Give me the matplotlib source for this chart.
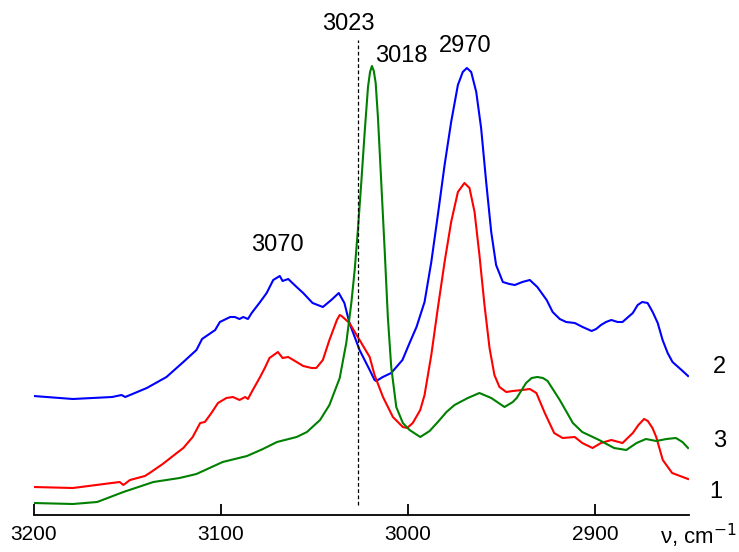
import matplotlib
matplotlib.use("Agg")
import matplotlib.pyplot as plt

plt.rcParams['font.family'] = ['Liberation Sans', 'DejaVu Sans']

# Spectrum 2 (blue)
wn_blue = [3200, 3179, 3158, 3153, 3151, 3139.5, 3129, 3120, 3113, 3110, 3103, 3100.5,
           3095, 3092.5, 3090, 3088, 3085.5, 3083.5, 3079, 3075.5, 3072, 3068.5, 3067,
           3064, 3059.5, 3056, 3051, 3045.5, 3041, 3037, 3034, 3031.3, 3025.9, 3020.5,
           3017.9, 3017, 3013.5, 3009, 3003, 2999.2, 2995.5, 2991.2, 2987.6, 2984.1,
           2980.5, 2977, 2973.4, 2970.8, 2968.6, 2966.3, 2963.6, 2961, 2958.3, 2955.6,
           2953, 2949.4, 2945.9, 2943, 2939, 2935, 2931, 2926, 2922.8, 2919, 2915.6,
           2911, 2906.8, 2902, 2899.6, 2897, 2894.3, 2891.5, 2888.1, 2885.5, 2880,
           2877.4, 2875, 2872.1, 2869.4, 2866.7, 2864.1, 2861.4, 2858.8, 2854, 2850.5]
ab_blue = [119, 116, 118, 120, 118, 127, 138, 153, 165, 176, 185, 193,
           198, 198, 196, 198, 196, 202, 213, 222, 235, 239, 234,
           236, 228, 222, 212, 208, 215, 222, 212, 192, 165, 145,
           135, 134, 138, 142, 155, 172, 188, 213, 253, 300,
           350, 393, 430, 443, 447, 443, 423, 387, 333, 283,
           250, 233, 231, 230, 233, 235, 228, 215, 203, 196, 193,
           192, 188, 184, 186, 190, 193, 195, 193, 193, 202,
           210, 213, 212, 203, 192, 175, 162, 153, 145, 139]

# Spectrum 1 (red)
wn_red = [3200, 3179, 3154, 3152, 3148.5, 3140.5, 3138, 3131, 3123.5, 3120, 3115, 3111,
          3108.5, 3105, 3101.5, 3097, 3093.5, 3090, 3087, 3085.5, 3083.5, 3079, 3076.5,
          3074, 3069.5, 3067, 3064, 3059.5, 3056, 3051.5, 3049, 3045.5, 3042, 3038,
          3036.5, 3035.5, 3031.3, 3025.9, 3020.5, 3017.9, 3013.4, 3008.1, 3002.8,
          3000.5, 2997.5, 2993.5, 2991.2, 2987.6, 2984.1, 2980.5, 2977, 2973.4, 2969.9,
          2967.2, 2964.5, 2961.9, 2959.2, 2956.5, 2953.9, 2951.2, 2947.6, 2944.1,
          2939, 2935, 2931.5, 2927, 2922, 2917.5, 2911, 2907, 2901.5, 2897, 2891.5,
          2885.5, 2880, 2877, 2874, 2872, 2869.5, 2867.5, 2864, 2859, 2850.5]
ab_red = [28, 27, 33, 30, 35, 39, 42, 51, 62, 67, 78, 92,
          93, 102, 112, 117, 118, 115, 118, 116, 123, 138, 147,
          157, 163, 157, 158, 153, 149, 147, 147, 155, 175, 195,
          200, 199, 192, 175, 158, 140, 118, 98, 88,
          87, 92, 105, 120, 160, 207, 253, 293, 323, 332,
          327, 303, 260, 210, 167, 140, 128, 123, 124,
          125, 126, 122, 102, 82, 77, 78, 72, 67, 72, 75,
          72, 82, 90, 96, 94, 87, 78, 55, 42, 36]

# Spectrum 3 (green)
wn_green = [3200, 3179, 3166, 3152, 3136, 3122, 3113, 3099, 3086, 3077.5, 3070, 3059.5,
            3054, 3047, 3042, 3036.5, 3033, 3030.3, 3028.5, 3026.8, 3025, 3023.2, 3021.4,
            3020.3, 3019.3, 3018.3, 3017.3, 3016.1, 3014.3, 3012.5, 3010.8, 3009, 3006.3,
            3002.8, 2999.2, 2993.5, 2988.5, 2984.1, 2979.5, 2975.2, 2968.1, 2961.9,
            2955.6, 2948.5, 2944.1, 2942, 2937, 2934, 2931, 2928, 2925.5, 2919, 2912, 2907,
            2898, 2890, 2883.5, 2878, 2873, 2867.5, 2862, 2857, 2853.5, 2850.5]
ab_green = [12, 11, 13, 23, 33, 37, 41, 53, 59, 66, 73, 78,
            83, 95, 110, 137, 172, 212, 245, 285, 332, 382, 428,
            443, 449, 444, 432, 398, 332, 265, 198, 148, 108,
            92, 85, 78, 84, 93, 103, 110, 117, 122,
            117, 108, 113, 117, 132, 137, 138, 137, 134, 115, 92, 83,
            75, 67, 65, 72, 76, 74, 76, 77, 73, 67]

peak_labels = ["3023", "3018", "2970", "3070"]
peak_label_pos = [(3031.7, 491), (3003.5, 459), (2969.3, 469), (3070, 270)]
curve_labels = ["2", "3", "1"]
curve_label_pos = [(2833.9, 148), (2833.9, 74), (2835.5, 23)]
marker_wn = 3027
xticks = [3200, 3100, 3000, 2900]

fig = plt.figure(figsize=(7.39, 5.52), dpi=100)
ax = fig.add_axes([33.5 / 739, 37 / 552, (689 - 33.5) / 739, 515 / 552])

ax.plot(wn_blue, ab_blue, color='#0000ff', lw=1.5, solid_joinstyle='round')
ax.plot(wn_red, ab_red, color='#ff0000', lw=1.5, solid_joinstyle='round')
ax.plot(wn_green, ab_green, color='#008000', lw=1.5, solid_joinstyle='round')

ax.plot([marker_wn, marker_wn], [10, 475], color='black', lw=0.9,
        linestyle=(0, (3, 2)))

ax.set_xlim(3200, 2850)
ax.set_ylim(0, 515)

for s in ['left', 'right', 'top']:
    ax.spines[s].set_visible(False)
ax.spines['bottom'].set_linewidth(1.3)
ax.set_yticks([])
ax.set_xticks(xticks)
ax.set_xticklabels([str(t) for t in xticks])
ax.tick_params(axis='x', direction='in', length=8, width=1.3, labelsize=15, pad=7)

for lab, (x, y) in zip(peak_labels, peak_label_pos):
    ax.text(x, y, lab, ha='center', va='center', fontsize=17)
for lab, (x, y) in zip(curve_labels, curve_label_pos):
    ax.text(x, y, lab, ha='center', va='center', fontsize=17, clip_on=False)

fig.text(737 / 739, 1 - 536 / 552, r'ν, cm$^{-1}$', ha='right', va='center', fontsize=16)

fig.savefig('out.png', dpi=100)
